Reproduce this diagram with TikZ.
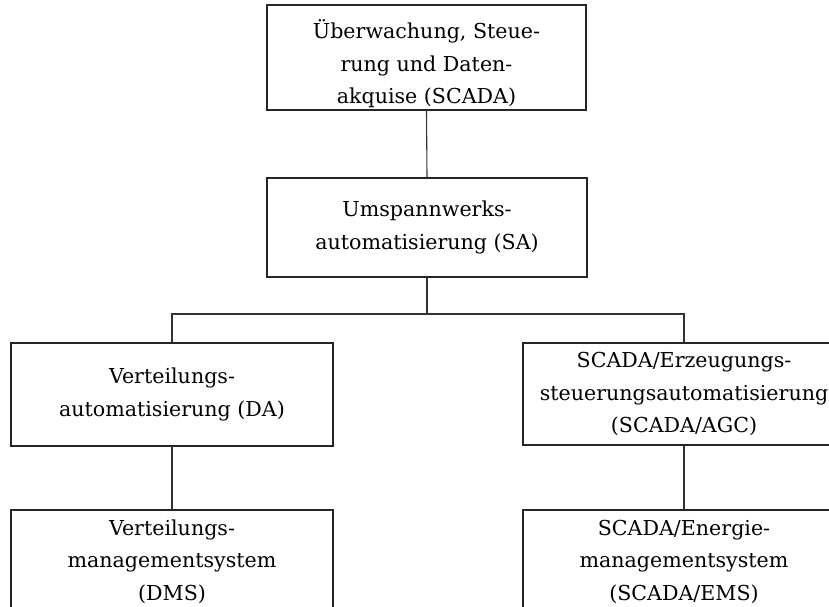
\documentclass[tikz,border=0pt]{standalone}
\usepackage{fontspec}
\setmainfont{DejaVu Serif}
\begin{document}
\begin{tikzpicture}[x=1pt,y=-1pt,
  box/.style={draw=black!85,line width=1.1pt,rectangle,inner sep=0pt,
    align=center,font=\fontsize{20.6}{32.5}\selectfont},
  link/.style={draw=black!80,line width=1.1pt}]
\clip (0,0) rectangle (829,607);
% the first line is given extra height so the three lines sit lower in the box
\node[box,minimum width=319pt,minimum height=105pt] (scada) at (426.5,57.5)
  {\rule{0pt}{32pt}Überwachung, Steue-\\rung und Daten-\\akquise (SCADA)};
\node[box,minimum width=320pt,minimum height=99pt] (sa) at (427,227.5)
  {Umspannwerks-\\automatisierung (SA)};
\node[box,minimum width=322pt,minimum height=103pt] (da) at (172,394.5)
  {Verteilungs-\\automatisierung (DA)};
\node[box,minimum width=322pt,minimum height=102pt] (agc) at (684,394)
  {SCADA/Erzeugungs-\\steuerungsautomatisierung\\(SCADA/AGC)};
\node[box,minimum width=322pt,minimum height=103pt] (dms) at (172,561.5)
  {Verteilungs-\\managementsystem\\(DMS)};
\node[box,minimum width=322pt,minimum height=103pt] (ems) at (684,561.5)
  {SCADA/Energie-\\managementsystem\\(SCADA/EMS)};
\coordinate (fork) at (427,314);
\draw[link] (scada.south) -- (sa.north);
\draw[link] (sa.south) -- (fork);
\draw[link] (da.north) |- (fork) -| (agc.north);
\draw[link] (da.south) -- (dms.north);
\draw[link] (agc.south) -- (ems.north);
\end{tikzpicture}
\end{document}
